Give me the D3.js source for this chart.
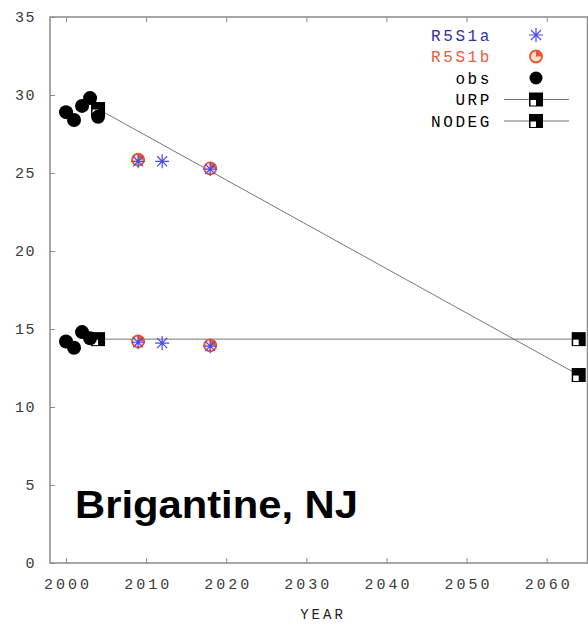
<!DOCTYPE html>
<html>
<head>
<meta charset="utf-8">
<script src="https://cdnjs.cloudflare.com/ajax/libs/d3/7.8.5/d3.min.js"></script>
<style>
  body { margin: 0; background: #fff; }
  svg { display: block; }
</style>
</head>
<body>
<svg id="chart" width="588" height="626"></svg>
<script>
// data
var obsYears = [2000, 2001, 2002, 2003, 2004];
var obsUpper = [28.9, 28.4, 29.3, 29.8, 28.6];
var obsLower = [14.2, 13.8, 14.8, 14.4, 14.3];

var r5aYears = [2009, 2012, 2018];
var r5aUpper = [25.75, 25.75, 25.25];
var r5aLower = [14.15, 14.1, 13.9];

var r5bYears = [2009, 2018];
var r5bUpper = [25.85, 25.3];
var r5bLower = [14.2, 13.95];

var projYears = [2004, 2064];
var urpValues = [29.1, 12.05];
var nodegValues = [14.35, 14.35];

var xTicks = [2000, 2010, 2020, 2030, 2040, 2050, 2060];
var yTicks = [0, 5, 10, 15, 20, 25, 30, 35];
var legendLabels = ["R5S1a", "R5S1b", "obs", "URP", "NODEG"];

var BLUE = "#4a4ae8", ORANGE = "#f0562a", AXIS = "#8a8a8a";
var MONO = "Liberation Mono, monospace";

var svg = d3.select("#chart");
var margin = {top: 17, left: 50, bottom: 63, right: 1};
var width = 588 - margin.left - margin.right, height = 626 - margin.top - margin.bottom;

var x = d3.scaleLinear().domain([1998, 2065.1]).range([0, width + 0.5]);
var y = d3.scaleLinear().domain([0, 35]).range([height, 0]);

var g = svg.append("g").attr("transform", "translate(" + margin.left + "," + margin.top + ")");

// frame
g.append("rect").attr("x", 0).attr("y", 0).attr("width", x(2065.1)).attr("height", height)
  .attr("fill", "none").attr("stroke", AXIS).attr("stroke-width", 1.5);

// axes
var xAxisBottom = g.append("g").attr("transform", "translate(0," + height + ")")
  .call(d3.axisBottom(x).tickValues(xTicks).tickSize(-5).tickPadding(15).tickFormat(d3.format("d")));
var xAxisTop = g.append("g").call(d3.axisTop(x).tickValues(xTicks).tickSize(-5).tickFormat(""));
var yAxisLeft = g.append("g").call(d3.axisLeft(y).tickValues(yTicks).tickSize(-5).tickPadding(14));

[xAxisBottom, xAxisTop, yAxisLeft].forEach(function(a) {
  a.select(".domain").remove();
  a.selectAll(".tick line").attr("stroke", AXIS);
  a.selectAll("text").attr("fill", "#3a3a3a").style("font-family", MONO).style("font-size", "15px");
});
xAxisBottom.selectAll("text").style("letter-spacing", "3px").attr("dx", "1.5px");
yAxisLeft.selectAll("text").style("letter-spacing", "1.5px");

svg.append("text").attr("x", 323).attr("y", 619).attr("text-anchor", "middle")
  .style("font-family", MONO).style("font-size", "14px").style("letter-spacing", "3px").attr("fill", "#222")
  .text("YEAR");

// projection lines
var line = d3.line().x(function(d) { return x(d[0]); }).y(function(d) { return y(d[1]); });
[urpValues, nodegValues].forEach(function(v) {
  g.append("path").datum(projYears.map(function(yr, i) { return [yr, v[i]]; }))
    .attr("d", line).attr("fill", "none").attr("stroke", "#777").attr("stroke-width", 1);
});

function squareMarker(sel, cx, cy) {
  var s = 14;
  sel.append("rect").attr("x", cx - s / 2).attr("y", cy - s / 2).attr("width", s).attr("height", s).attr("fill", "#000");
  sel.append("rect").attr("x", cx - s / 2 + 1.5).attr("y", cy + 0.5).attr("width", 5.5).attr("height", 5.5).attr("fill", "#fff");
}
function pieMarker(sel, cx, cy) {
  sel.append("circle").attr("cx", cx).attr("cy", cy).attr("r", 6).attr("fill", "#fde0d4")
    .attr("stroke", ORANGE).attr("stroke-width", 1.8);
  sel.append("path").attr("transform", "translate(" + cx + "," + cy + ")")
    .attr("d", d3.arc()({innerRadius: 0, outerRadius: 6.5, startAngle: 0, endAngle: Math.PI / 2}))
    .attr("fill", ORANGE);
}
function starMarker(sel, cx, cy) {
  var r = 7;
  var p = d3.path();
  p.moveTo(cx - r, cy); p.lineTo(cx + r, cy);
  p.moveTo(cx, cy - r); p.lineTo(cx, cy + r);
  p.moveTo(cx - r * 0.72, cy - r * 0.72); p.lineTo(cx + r * 0.72, cy + r * 0.72);
  p.moveTo(cx - r * 0.72, cy + r * 0.72); p.lineTo(cx + r * 0.72, cy - r * 0.72);
  sel.append("path").attr("d", p.toString()).attr("stroke", BLUE).attr("stroke-width", 1.2).attr("fill", "none");
}

// projection end markers
[urpValues, nodegValues].forEach(function(v) {
  projYears.forEach(function(yr, i) { squareMarker(g, x(yr), y(v[i])); });
});

// observations
[obsUpper, obsLower].forEach(function(v) {
  g.selectAll(null).data(obsYears.slice(0, 4)).enter().append("circle")
    .attr("cx", function(d) { return x(d); })
    .attr("cy", function(d, i) { return y(v[i]); })
    .attr("r", 7).attr("fill", "#000");
});
g.append("circle").attr("cx", x(obsYears[4])).attr("cy", y(obsUpper[4])).attr("r", 7).attr("fill", "#000");

// model runs
[r5bUpper, r5bLower].forEach(function(v) {
  r5bYears.forEach(function(yr, i) { pieMarker(g, x(yr), y(v[i])); });
});
[r5aUpper, r5aLower].forEach(function(v) {
  r5aYears.forEach(function(yr, i) { starMarker(g, x(yr), y(v[i])); });
});

// legend
var legend = svg.append("g");
var legendColors = ["#2f2fb0", "#e8603c", "#000", "#000", "#000"];
legendLabels.forEach(function(lab, i) {
  var ly = 35 + i * 21.5;
  legend.append("text").attr("x", 492).attr("y", ly + 5.5).attr("text-anchor", "end")
    .style("font-family", MONO).style("font-size", "16px").style("letter-spacing", "2.6px")
    .attr("fill", legendColors[i]).text(lab);
  if (i === 0) starMarker(legend, 536, ly);
  else if (i === 1) pieMarker(legend, 536, ly);
  else if (i === 2) legend.append("circle").attr("cx", 536).attr("cy", ly).attr("r", 6.5).attr("fill", "#000");
  else {
    legend.append("line").attr("x1", 504).attr("x2", 569).attr("y1", ly).attr("y2", ly).attr("stroke", "#777");
    squareMarker(legend, 536, ly);
  }
});

// station label
svg.append("text").attr("x", 75).attr("y", 518)
  .style("font-family", "Liberation Sans, Arial, sans-serif").style("font-weight", "bold").style("font-size", "38px")
  .attr("textLength", 283).attr("lengthAdjust", "spacingAndGlyphs")
  .attr("fill", "#000").text("Brigantine, NJ");
</script>
</body>
</html>
